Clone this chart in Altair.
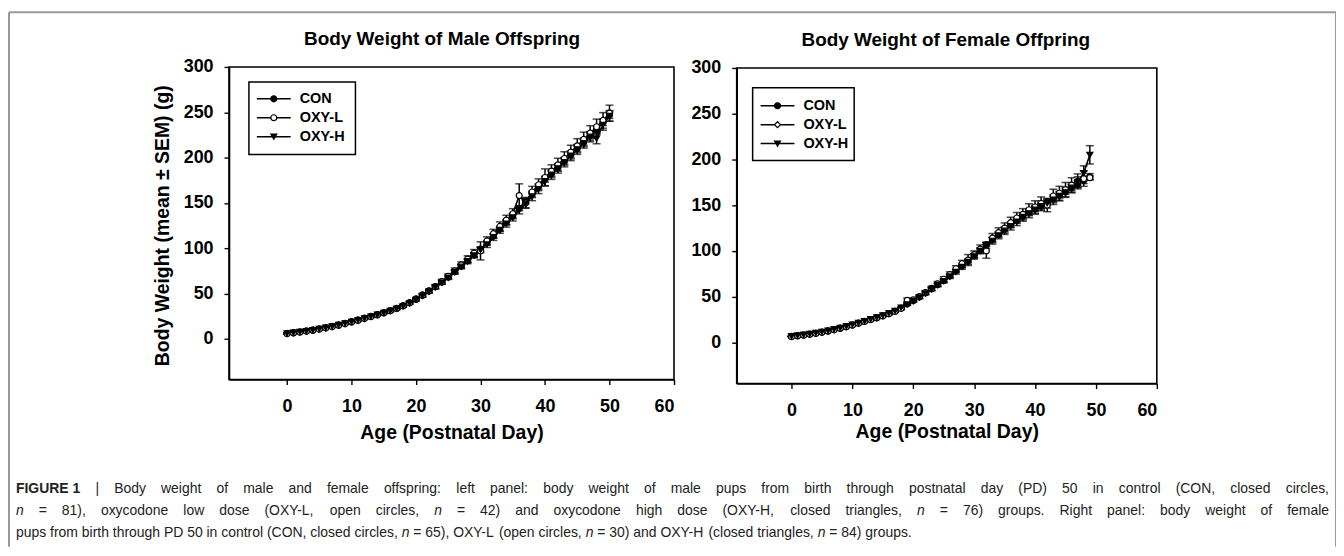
import altair as alt
import pandas as pd

# ---------------- data ----------------
GROUPS = ["CON", "OXY-L", "OXY-H"]

male_days = list(range(0, 51))
male_con = [6.0, 6.8, 7.7, 8.7, 9.8, 11.0, 12.3, 13.8, 15.4, 17.1, 19.0, 20.8, 22.7, 24.7, 26.7, 28.8,
            31.0, 33.5, 36.5, 40.0, 44.0, 48.5, 53.0, 57.5, 62.5, 68.0, 74.0, 80.0, 86.0, 92.5, 99.0,
            106.0, 113.5, 121.0, 128.5, 136.0, 144.0, 152.0, 160.0, 168.0, 176.0, 182.5, 189.0, 196.0,
            203.0, 210.0, 217.0, 224.0, 231.0, 239.0, 247.0]
male_con_sem = [0.1, 0.1, 0.2, 0.2, 0.2, 0.3, 0.3, 0.3, 0.4, 0.4, 0.4, 0.5, 0.5, 0.5, 0.6, 0.6,
                0.7, 0.7, 0.8, 0.9, 1.0, 1.1, 1.2, 1.3, 1.4, 1.5, 1.6, 1.7, 1.8, 1.9, 2.1,
                2.2, 2.3, 2.4, 2.5, 2.6, 2.7, 2.8, 2.9, 3.0, 3.1, 3.1, 3.2, 3.2, 3.3, 3.3, 3.4,
                3.4, 3.5, 3.6, 3.8]
male_oxyl = [5.5, 6.3, 7.2, 8.2, 9.3, 10.5, 11.8, 13.2, 14.8, 16.5, 18.4, 20.3, 22.3, 24.3, 26.4, 28.6,
             30.9, 33.4, 36.2, 39.5, 43.5, 47.8, 52.5, 57.5, 63.0, 69.0, 75.0, 81.5, 88.0, 94.5, 97.0,
             108.0, 116.0, 124.0, 131.0, 138.0, 158.0, 150.0, 162.0, 170.0, 178.0, 185.0, 192.0, 199.0,
             206.0, 213.0, 220.0, 227.0, 234.0, 241.0, 249.0]
male_oxyl_sem = [0.2, 0.2, 0.3, 0.3, 0.4, 0.4, 0.5, 0.5, 0.6, 0.6, 0.7, 0.8, 0.8, 0.9, 1.0, 1.0,
                 1.1, 1.2, 1.4, 1.5, 1.7, 1.9, 2.1, 2.3, 2.6, 2.8, 3.0, 3.3, 3.6, 4.0, 10.0,
                 4.5, 4.8, 5.0, 5.3, 5.6, 13.0, 6.0, 6.2, 6.5, 9.5, 7.0, 7.2, 7.4, 7.6, 7.8, 8.0,
                 8.2, 8.4, 8.6, 8.8]
male_oxyh = [5.8, 6.6, 7.5, 8.5, 9.6, 10.8, 12.1, 13.6, 15.2, 16.9, 18.7, 20.6, 22.5, 24.5, 26.5, 28.6,
             30.8, 33.2, 36.0, 39.3, 43.0, 47.3, 52.0, 56.8, 62.0, 67.5, 73.5, 79.5, 85.5, 92.0, 98.0,
             104.0, 112.0, 120.0, 127.0, 134.0, 142.0, 149.0, 157.0, 165.0, 174.0, 181.0, 188.0, 195.0,
             202.0, 209.0, 216.0, 223.0, 221.0, 236.0, 246.0]
male_oxyh_sem = [0.1, 0.2, 0.2, 0.2, 0.3, 0.3, 0.3, 0.4, 0.4, 0.5, 0.5, 0.6, 0.6, 0.7, 0.7, 0.8,
                 0.8, 0.9, 1.0, 1.1, 1.2, 1.4, 1.5, 1.7, 1.8, 2.0, 2.2, 2.4, 2.6, 2.8, 3.0,
                 3.2, 3.4, 3.6, 3.8, 4.0, 4.2, 4.4, 4.6, 4.8, 5.0, 5.1, 5.2, 5.3, 5.4, 5.5, 5.6,
                 5.7, 5.8, 5.9, 6.0]

female_days = list(range(0, 50))
female_con = [6.5, 7.2, 8.0, 9.0, 10.0, 11.2, 12.5, 14.0, 15.5, 17.2, 19.0, 21.0, 23.0, 25.0, 27.0,
              29.0, 31.5, 34.0, 37.5, 42.0, 45.5, 49.5, 54.0, 58.5, 63.0, 67.5, 72.5, 78.0, 83.5, 89.0,
              95.0, 101.0, 107.0, 112.5, 118.0, 123.5, 128.5, 133.5, 138.0, 142.0, 146.0, 149.5, 153.0,
              157.0, 161.0, 165.0, 169.0, 173.0, 177.0, 181.0]
female_con_sem = [0.1, 0.1, 0.2, 0.2, 0.2, 0.3, 0.3, 0.3, 0.4, 0.4, 0.4, 0.5, 0.5, 0.5, 0.6,
                  0.6, 0.7, 0.7, 0.8, 0.9, 1.0, 1.1, 1.2, 1.3, 1.4, 1.5, 1.6, 1.7, 1.8, 1.9,
                  2.0, 2.1, 2.2, 2.3, 2.4, 2.5, 2.6, 2.7, 2.8, 2.9, 3.0, 3.0, 3.1, 3.1, 3.2,
                  3.2, 3.3, 3.3, 3.4, 3.5]
female_oxyl = [6.2, 7.0, 7.8, 8.8, 9.8, 11.0, 12.3, 13.7, 15.3, 17.0, 18.8, 20.8, 22.8, 24.8, 26.8,
               28.9, 31.2, 33.8, 37.0, 46.0, 46.5, 50.0, 54.5, 59.0, 64.0, 69.0, 74.0, 80.5, 86.0, 90.0,
               96.0, 102.0, 100.0, 114.0, 120.0, 125.0, 131.0, 136.0, 140.0, 145.0, 148.0, 152.0, 150.0,
               160.0, 163.0, 167.0, 172.0, 176.0, 179.0, 180.0]
female_oxyl_sem = [0.2, 0.2, 0.3, 0.3, 0.4, 0.4, 0.5, 0.5, 0.6, 0.6, 0.7, 0.8, 0.8, 0.9, 1.0,
                   1.0, 1.1, 1.2, 1.4, 2.5, 1.7, 1.9, 2.1, 2.3, 2.6, 2.8, 3.0, 3.3, 3.6, 6.0,
                   4.0, 4.5, 8.0, 5.0, 5.3, 5.6, 5.8, 6.0, 6.2, 6.5, 6.8, 7.0, 7.2, 7.4, 7.6,
                   7.8, 8.0, 8.2, 8.4, 2.0]
female_oxyh = [6.8, 7.5, 8.3, 9.3, 10.3, 11.5, 12.8, 14.3, 15.8, 17.5, 19.3, 21.2, 23.2, 25.3, 27.3,
               29.4, 31.8, 34.3, 37.8, 41.5, 45.0, 49.0, 53.5, 58.0, 62.5, 67.0, 72.0, 77.0, 82.5, 88.0,
               94.0, 100.0, 106.0, 111.0, 117.0, 122.0, 127.0, 132.0, 137.0, 141.0, 145.0, 149.0, 152.0,
               156.0, 160.0, 164.0, 169.0, 175.0, 185.0, 205.0]
female_oxyh_sem = [0.1, 0.2, 0.2, 0.2, 0.3, 0.3, 0.3, 0.4, 0.4, 0.5, 0.5, 0.6, 0.6, 0.7, 0.7,
                   0.8, 0.8, 0.9, 1.0, 1.1, 1.2, 1.4, 1.5, 1.7, 1.8, 2.0, 2.2, 2.4, 2.6, 2.8,
                   3.0, 3.2, 3.4, 3.6, 3.8, 4.0, 4.2, 4.4, 4.6, 4.8, 5.0, 5.1, 5.2, 5.3, 5.4,
                   5.5, 5.6, 6.0, 8.0, 10.0]

X_TICKS = [0, 10, 20, 30, 40, 50, 60]
Y_TICKS = [0, 50, 100, 150, 200, 250, 300]
X_DOMAIN = [-9, 60]
Y_DOMAIN = [-45, 300]

TITLES = ["Body Weight of Male Offspring", "Body Weight of Female Offpring"]
X_TITLE = "Age (Postnatal Day)"
Y_TITLE = "Body Weight (mean \u00b1 SEM)  (g)"

CAPTION_BOLD = "FIGURE 1"
CAPTION_LINES = [
    "| Body weight of male and female offspring: left panel: body weight of male pups from birth through postnatal day (PD) 50 in control (CON, closed circles,",
    "n = 81), oxycodone low dose (OXY-L, open circles, n = 42) and oxycodone high dose (OXY-H, closed triangles, n = 76) groups. Right panel: body weight of female",
    "pups from birth through PD 50 in control (CON, closed circles, n = 65), OXY-L (open circles, n = 30) and OXY-H (closed triangles, n = 84) groups.",
]


def long_df(days, series):
    rows = []
    for g, (vals, sems) in zip(GROUPS, series):
        for d, v, s in zip(days, vals, sems):
            rows.append({"group": g, "day": d, "mean": v, "lo": v - s, "hi": v + s})
    return pd.DataFrame(rows)


male_df = long_df(male_days, [(male_con, male_con_sem), (male_oxyl, male_oxyl_sem), (male_oxyh, male_oxyh_sem)])
female_df = long_df(female_days, [(female_con, female_con_sem), (female_oxyl, female_oxyl_sem),
                                  (female_oxyh, female_oxyh_sem)])

# ---------------- layout (view coordinates; view origin = page (9, 11)) ----------------
W, H = 1333, 537
FONT = "Liberation Sans"
CAP_FONT = "Liberation Sans"
CAP_SIZE = 14

SHAPE_RANGE = ["circle", "circle", "triangle-down"]
FILL_RANGE = ["black", "white", "black"]
MSIZE = 36


def panel(df, xr, yr, title_text, title_pos, ytitle, ytitle_x, xtitle_dy, legend_box, legend_rows,
          legend_shapes):
    x_axis = alt.Axis(orient="bottom", offset=yr[0] - H, values=X_TICKS, title=X_TITLE,
                      titleY=xtitle_dy, titleBaseline="middle")
    y_axis = alt.Axis(orient="left", offset=-xr[0], values=Y_TICKS,
                      title=ytitle if ytitle else None,
                      titleX=ytitle_x, titleY=(yr[0] + yr[1]) / 2 + 2, titleAngle=270,
                      titleAlign="center", titleBaseline="middle")
    xs = alt.Scale(domain=X_DOMAIN, range=list(xr), nice=False, zero=False)
    ys = alt.Scale(domain=Y_DOMAIN, range=list(yr), nice=False, zero=False)

    frame_df = pd.DataFrame([{"x1": X_DOMAIN[0], "x2": X_DOMAIN[1], "y1": Y_DOMAIN[0], "y2": Y_DOMAIN[1]}])
    frame = alt.Chart(frame_df).mark_rect(fill=None, stroke="black", strokeWidth=1.6).encode(
        x=alt.X("x1:Q", scale=xs, axis=x_axis), x2="x2:Q",
        y=alt.Y("y1:Q", scale=ys, axis=y_axis), y2="y2:Q")

    base = alt.Chart(df)
    xe = alt.X("day:Q", scale=xs, axis=x_axis)
    bars = base.mark_rule(color="black", strokeWidth=1.5).encode(
        x=xe, y=alt.Y("lo:Q", scale=ys, axis=y_axis), y2="hi:Q")
    cap_hi = base.mark_tick(orient="horizontal", color="black", size=8, thickness=1.5).encode(
        x=xe, y=alt.Y("hi:Q", scale=ys, axis=y_axis))
    cap_lo = base.mark_tick(orient="horizontal", color="black", size=8, thickness=1.5).encode(
        x=xe, y=alt.Y("lo:Q", scale=ys, axis=y_axis))
    lines = base.mark_line(color="black", strokeWidth=1.6).encode(
        x=xe, y=alt.Y("mean:Q", scale=ys, axis=y_axis), detail="group:N")
    pts = base.mark_point(size=MSIZE, opacity=1, fillOpacity=1, strokeWidth=1.2, stroke="black").encode(
        x=xe, y=alt.Y("mean:Q", scale=ys, axis=y_axis),
        shape=alt.Shape("group:N", scale=alt.Scale(domain=GROUPS, range=SHAPE_RANGE), legend=None),
        fill=alt.Fill("group:N", scale=alt.Scale(domain=GROUPS, range=FILL_RANGE), legend=None))
    data_layer = alt.layer(frame, bars, cap_hi, cap_lo, lines, pts)

    # legend: rows placed through a small quantitative scale of the row index
    lx0, lx1, ly0, ly1 = legend_box
    leg_df = pd.DataFrame({"group": GROUPS, "row": list(range(len(GROUPS)))})
    ly = alt.Y("row:Q", scale=alt.Scale(domain=[0, len(GROUPS) - 1], range=list(legend_rows),
                                        nice=False, zero=False), axis=None)
    box = alt.Chart(leg_df.head(1)).mark_rect(fill="white", stroke="black", strokeWidth=1.5).encode(
        x=alt.value(lx0), x2=alt.value(lx1), y=alt.value(ly0), y2=alt.value(ly1))
    seg = alt.Chart(leg_df).mark_rule(color="black", strokeWidth=1.5).encode(
        x=alt.value(lx0 + 8), x2=alt.value(lx0 + 42), y=ly)
    sym = alt.Chart(leg_df).mark_point(size=MSIZE, opacity=1, fillOpacity=1, strokeWidth=1.2,
                                       stroke="black").encode(
        x=alt.value(lx0 + 25), y=ly,
        shape=alt.Shape("group:N", scale=alt.Scale(domain=GROUPS, range=legend_shapes), legend=None),
        fill=alt.Fill("group:N", scale=alt.Scale(domain=GROUPS, range=FILL_RANGE), legend=None))
    lab = alt.Chart(leg_df).mark_text(align="left", baseline="middle", font=FONT, fontWeight="bold",
                                      fontSize=14.5, color="black").encode(
        x=alt.value(lx0 + 51), y=ly, text="group:N")
    legend_layer = alt.layer(box, seg, sym, lab).resolve_scale(shape="independent")

    title = alt.Chart(leg_df.head(1)).mark_text(font=FONT, fontWeight="bold", fontSize=19,
                                                align="center", baseline="middle", color="black").encode(
        x=alt.value(title_pos[0]), y=alt.value(title_pos[1]), text=alt.value(title_text))
    return [data_layer, legend_layer, title]


left = panel(male_df, xr=(221, 668), yr=(369, 55), title_text=TITLES[0], title_pos=(435, 27),
             ytitle=Y_TITLE, ytitle_x=-67, xtitle_dy=53,
             legend_box=(241, 348, 70, 143), legend_rows=(87, 125),
             legend_shapes=["circle", "circle", "triangle-down"])
right = panel(female_df, xr=(731, 1153), yr=(373, 56), title_text=TITLES[1], title_pos=(941, 28),
              ytitle=None, ytitle_x=-67, xtitle_dy=48,
              legend_box=(747, 849, 76, 149), legend_rows=(94, 132),
              legend_shapes=["circle", "diamond", "triangle-down"])

one = pd.DataFrame({"k": [0]})
border = [
    alt.Chart(one).mark_rule(color="#9a9a9a", strokeWidth=2).encode(
        x=alt.value(0), x2=alt.value(W), y=alt.value(0)),
    alt.Chart(one).mark_rule(color="#9a9a9a", strokeWidth=2).encode(
        x=alt.value(0), y=alt.value(0), y2=alt.value(H)),
    alt.Chart(one).mark_rule(color="#9a9a9a", strokeWidth=2).encode(
        x=alt.value(W), y=alt.value(0), y2=alt.value(H)),
]

# ---------------- caption: word layout (Arial / Liberation Sans metrics), justified lines ----------------
REG_W = {" ": 278, "(": 333, ")": 333, ",": 278, "-": 333, ".": 278, ":": 278, "=": 584, "|": 260,
         "A": 667, "B": 667, "C": 722, "D": 722, "E": 667, "F": 611, "G": 778, "H": 722, "I": 278,
         "L": 556, "M": 833, "N": 722, "O": 778, "P": 667, "R": 722, "S": 667, "T": 611, "U": 722,
         "X": 667, "Y": 667,
         "a": 556, "b": 556, "c": 500, "d": 556, "e": 556, "f": 278, "g": 556, "h": 556, "i": 222,
         "j": 222, "k": 500, "l": 222, "m": 833, "n": 556, "o": 556, "p": 556, "q": 556, "r": 333,
         "s": 500, "t": 278, "u": 556, "v": 500, "w": 722, "x": 500, "y": 500, "z": 500}
BOLD_W = {" ": 278, "F": 611, "I": 278, "G": 778, "U": 722, "R": 722, "E": 667}


def text_w(s, bold=False):
    tbl = BOLD_W if bold else REG_W
    return sum(tbl.get(c, 556) for c in s) / 1000.0 * CAP_SIZE


CAP_X0, CAP_X1 = 7, 1326
CAP_Y = [479, 501, 523]
JUSTIFY = [True, True, False]

word_rows = []
for li, (line, yy, just) in enumerate(zip(CAPTION_LINES, CAP_Y, JUSTIFY)):
    toks = [(w, "italic" if w == "n" else "normal") for w in line.split(" ")]
    if li == 0:
        toks = [(CAPTION_BOLD, "bold")] + toks
    widths = [text_w(t, s == "bold") for t, s in toks]
    gap = (CAP_X1 - CAP_X0 - sum(widths)) / (len(toks) - 1) if just else text_w(" ")
    xx = CAP_X0
    for (t, s), wdt in zip(toks, widths):
        word_rows.append({"text": t, "x": xx, "y": yy, "style": s})
        xx += wdt + gap
words = pd.DataFrame(word_rows)

caption = []
for style in ["normal", "italic", "bold"]:
    sub = words[words["style"] == style]
    caption.append(alt.Chart(sub).mark_text(
        font=CAP_FONT, fontSize=CAP_SIZE, align="left", baseline="middle", color="#222222",
        fontWeight="bold" if style == "bold" else "normal",
        fontStyle="italic" if style == "italic" else "normal").encode(
        x=alt.X("x:Q", scale=None, axis=None), y=alt.Y("y:Q", scale=None, axis=None), text="text:N"))

chart = alt.layer(*left, *right, *border, *caption).resolve_scale(
    x="independent", y="independent", shape="independent"
).properties(
    width=W, height=H,
    padding={"left": 1, "top": 3, "right": 0, "bottom": 0},
    autosize=alt.AutoSizeParams(type="none"),
).configure_view(stroke=None).configure_axis(
    grid=False, domainColor="black", domainWidth=1.6, tickColor="black", tickWidth=1.4, tickSize=5,
    labelFont=FONT, labelFontWeight="bold", labelFontSize=18, labelColor="black",
    titleFont=FONT, titleFontWeight="bold", titleFontSize=19.5, titleColor="black",
).configure_axisX(labelPadding=13).configure_axisY(labelPadding=11)

chart.save("out.html", embed_options={"renderer": "svg", "actions": False})
